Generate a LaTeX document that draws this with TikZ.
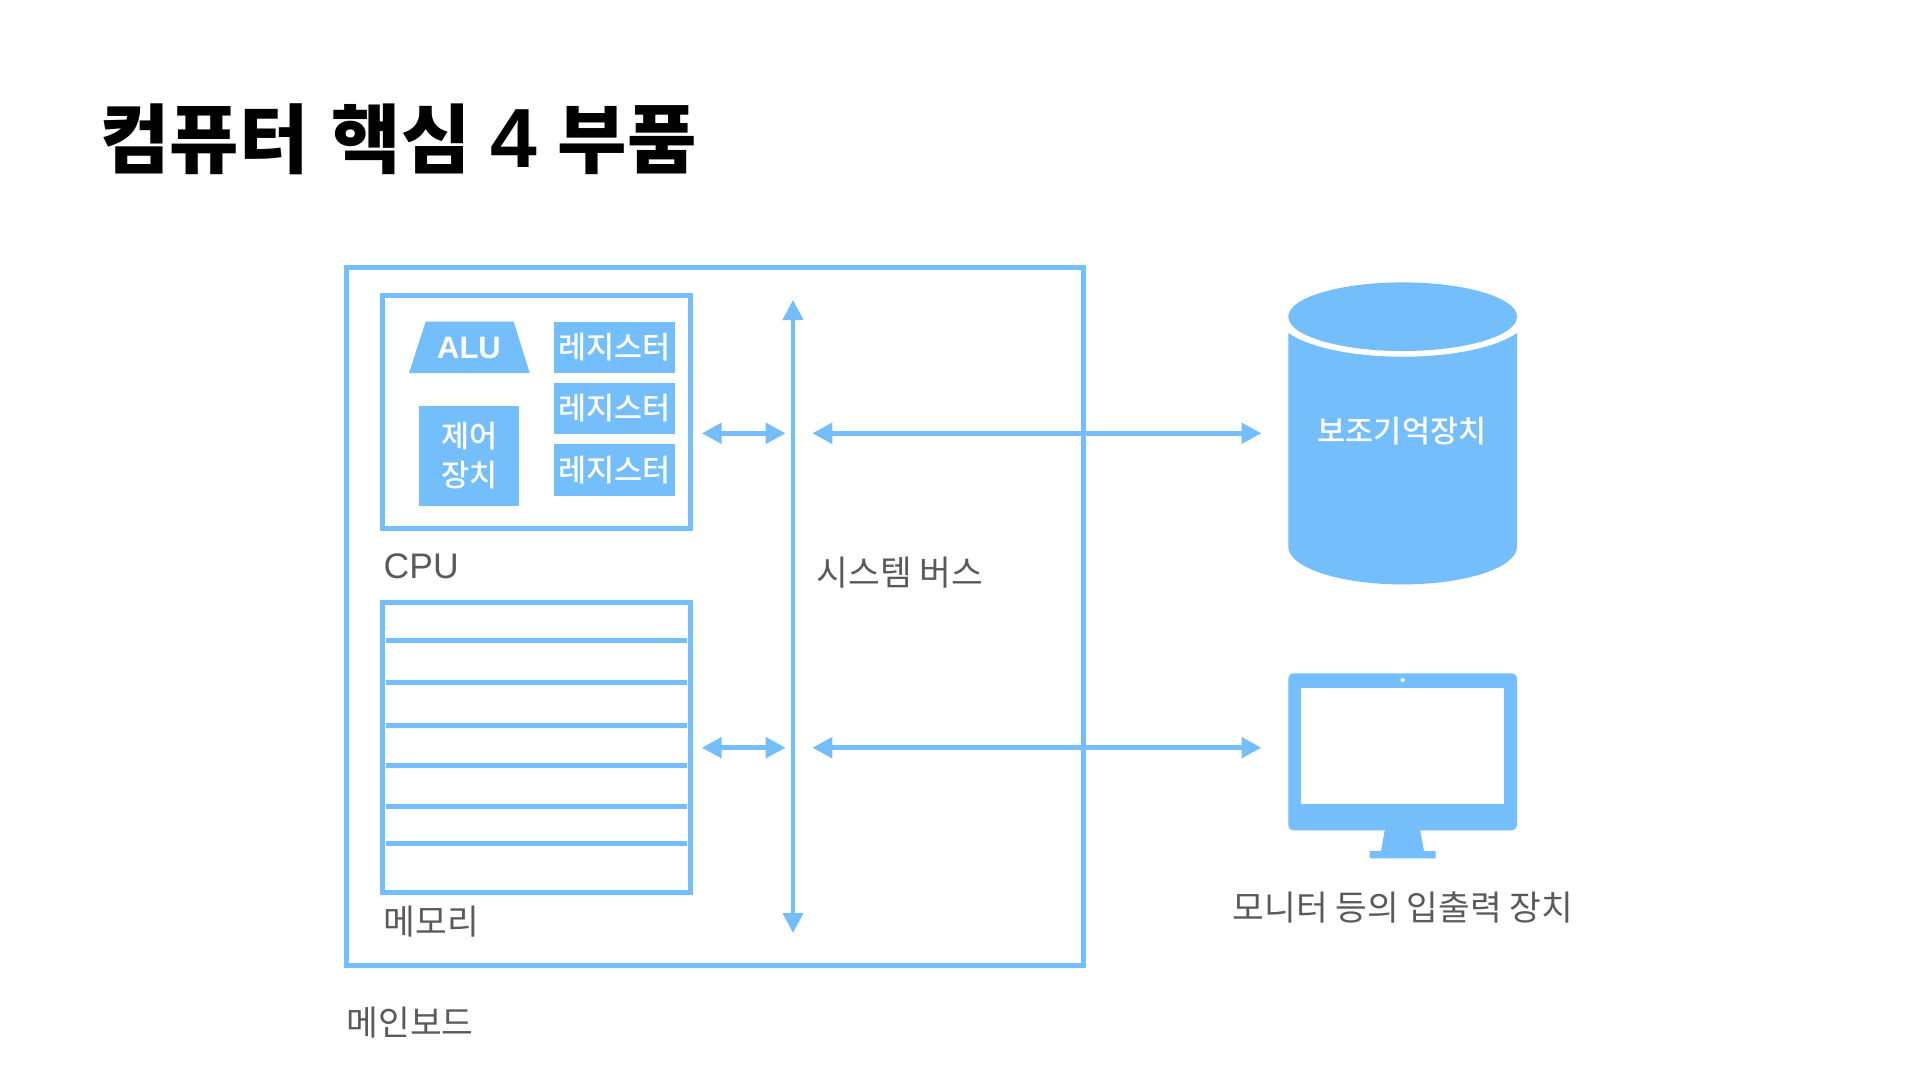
\documentclass[tikz,border=0pt]{standalone}
\usepackage{fontspec}
\setmainfont{Noto Sans CJK KR}
\newfontfamily\krmed{Noto Sans CJK KR Medium}
\newfontfamily\krblack{Noto Sans CJK KR Black}
\newfontfamily\latin{Liberation Sans}
\usetikzlibrary{arrows.meta}
\definecolor{busblue}{HTML}{74BEFB}
\definecolor{labelgray}{HTML}{5A5A5A}
\newcommand{\fs}[1]{\fontsize{#1}{#1}\selectfont}
\newcommand{\lift}{\rule[-3pt]{0pt}{3pt}}
\tikzset{
  frame/.style={draw=busblue,line width=5pt,fill=none,rectangle,inner sep=0pt},
  solidbox/.style={fill=busblue,rectangle,inner sep=0pt,text=white,font=\krmed\fs{30.5},align=center},
  regbox/.style={solidbox,minimum width=121pt,minimum height=51.3pt},
  cell/.style={draw=busblue,line width=5pt},
  label/.style={text=labelgray,font=\fs{34.5},inner sep=0pt},
  link/.style={draw=busblue,line width=5pt,{Triangle[length=20pt,width=20pt]}-{Triangle[length=20pt,width=20pt]}},
  shapefill/.style={fill=busblue,draw=none}
}
\begin{document}
\begin{tikzpicture}[x=1pt,y=-1pt]
\useasboundingbox (0,0) rectangle (1920,1080);
\fill[white] (0,0) rectangle (1920,1080);

\node[inner sep=0pt,anchor=center] (title) at (398.5,139) {\krblack\fs{75.5}컴퓨터\hspace{6pt} 핵심\hspace{3pt} {\latin\bfseries\fs{84}4}\hspace{3pt} 부품};

% boards
\draw[frame] (346,267.5) rectangle (1083,965.5);
\draw[frame] (382,295) rectangle (690,528);
\draw[frame] (382,602.5) rectangle (690,892);
\foreach \yy/\nn in {640.7/a,682.7/b,725/c,765.7/d,806.7/e,843/f}{
  \coordinate (m\nn l) at (385.5,\yy);
  \coordinate (m\nn r) at (686.5,\yy);
  \draw[cell] (m\nn l) -- (m\nn r);
}

% CPU contents
\path[shapefill] (425.7,321.7) -- (513.7,321.7) -- (529.7,373) -- (409,373) -- cycle;
\node[text=white,font=\latin\bfseries\fs{31},inner sep=0pt] (alu) at (469,347.5) {ALU};
\node[regbox] (r1) at (614.5,347.3) {레지스터\lift};
\node[regbox] (r2) at (614.5,408.7) {레지스터\lift};
\node[regbox] (r3) at (614.5,470) {레지스터\lift};
\node[solidbox,minimum width=100pt,minimum height=100pt,font=\krmed\fontsize{30.5}{39}\selectfont] (ctrl) at (469.3,456.3) {제어\\장치\rule[-4pt]{0pt}{4pt}};

% labels
\node[label,anchor=west,font=\latin\fs{35.5}] (cpu) at (383.5,566) {CPU};
\node[label,anchor=west] (mem) at (383.5,921.5) {메모리};
\node[label,anchor=west] (bus) at (816.5,572.5) {시스템 버스};
\node[label,anchor=west] (board) at (346.5,1023) {메인보드};
\node[label] (io) at (1403,907.5) {모니터 등의 입출력 장치};

% bus and links
\coordinate (bustop) at (793,300);
\coordinate (busbot) at (793,933);
\draw[link,line width=4pt] (bustop) -- (busbot);
\coordinate (c1) at (701.7,433.3);
\coordinate (c2) at (785.7,433.3);
\coordinate (c3) at (812.3,433.3);
\coordinate (c4) at (1261.5,433.3);
\coordinate (d1) at (701.7,747.7);
\coordinate (d2) at (785.7,747.7);
\coordinate (d3) at (812.3,747.7);
\coordinate (d4) at (1261.5,747.7);
\draw[link] (c1) -- (c2);
\draw[link] (c3) -- (c4);
\draw[link] (d1) -- (d2);
\draw[link] (d3) -- (d4);

% cylinder
\path[shapefill] (1288.3,316.7) -- (1288.3,546.7) arc[start angle=180,end angle=0,x radius=114.35,y radius=37.7] -- (1517,316.7) -- cycle;
\fill[white] (1402.65,316.7) ellipse[x radius=124.7,y radius=40];
\path[shapefill] (1402.65,316.7) ellipse[x radius=114.35,y radius=34.3];
\node[text=white,font=\krmed\fs{30.5},inner sep=0pt] (disk) at (1402,431) {보조기억장치};

% monitor
\path[shapefill] (1385,829) -- (1420,829) -- (1424,851) -- (1435.7,851) -- (1435.7,858.3) -- (1369.7,858.3) -- (1369.7,851) -- (1381,851) -- cycle;
\path[shapefill,rounded corners=5pt] (1288.3,673.3) rectangle (1517,830.3);
\fill[white] (1301.3,688.3) rectangle (1504,803.7);
\fill[white] (1402.7,680) circle[radius=2pt];
\end{tikzpicture}
\end{document}
